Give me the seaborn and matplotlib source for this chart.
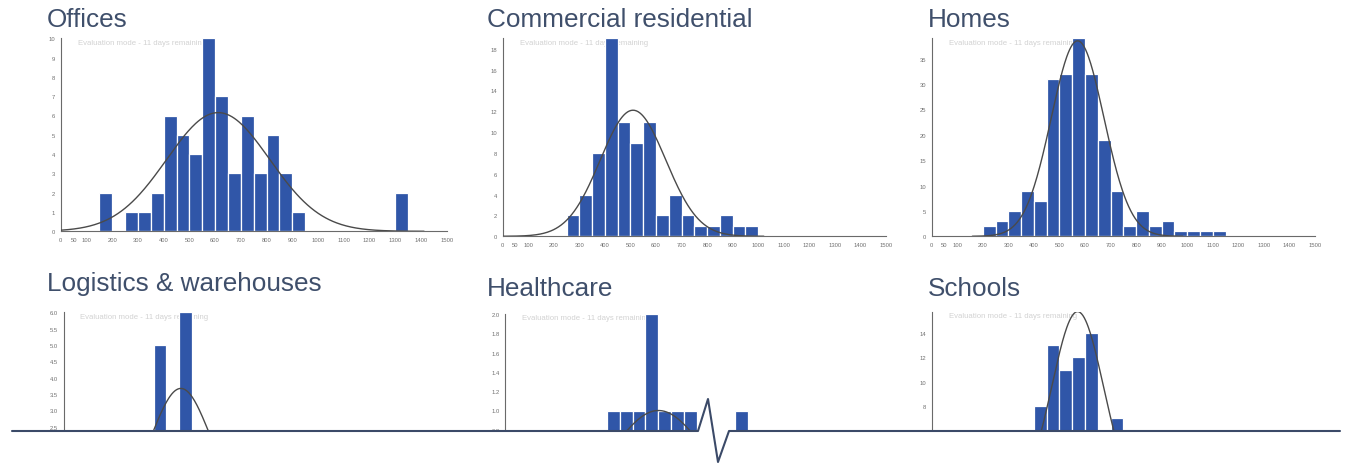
import numpy as np
import pandas as pd
import matplotlib
matplotlib.use("Agg")
import matplotlib.pyplot as plt
import seaborn as sns
from matplotlib.lines import Line2D
from matplotlib.patches import Rectangle

# ---------------- data ----------------
titles = ["Offices", "Commercial residential", "Homes",
          "Logistics & warehouses", "Healthcare", "Schools"]

offices_bins = [150, 250, 300, 350, 400, 450, 500, 550, 600, 650, 700, 750, 800, 850, 900, 1300]
offices_counts = [2, 1, 1, 2, 6, 5, 4, 10, 7, 3, 6, 3, 5, 3, 1, 2]

commercial_bins = [250, 300, 350, 400, 450, 500, 550, 600, 650, 700, 750, 800, 850, 900, 950]
commercial_counts = [2, 4, 8, 19, 11, 9, 11, 2, 4, 2, 1, 1, 2, 1, 1]

homes_bins = [200, 250, 300, 350, 400, 450, 500, 550, 600, 650, 700, 750, 800, 850, 900,
              950, 1000, 1050, 1100]
homes_counts = [2, 3, 5, 9, 7, 31, 32, 39, 32, 19, 9, 2, 5, 2, 3, 1, 1, 1, 1]

logistics_bins = [350, 450]
logistics_counts = [5, 6]

healthcare_bins = [400, 450, 500, 550, 600, 650, 700, 900]
healthcare_counts = [1, 1, 1, 2, 1, 1, 1, 1]

schools_bins = [400, 450, 500, 550, 600, 700]
schools_counts = [8, 13, 11, 12, 14, 7]

# fitted normal curve: mean, sd, peak height
curve_mean = [612, 510, 571, 456, 601, 571]
curve_sd = [200, 128, 103, 114, 180, 102]
curve_peak = [6.15, 12.1, 38.5, 3.67, 1.0, 15.75]

x_ticks = [0, 50, 100, 200, 300, 400, 500, 600, 700, 800, 900, 1000, 1100, 1200, 1300, 1400, 1500]
y_max = [10, 19, 39, 6.0, 2.0, 15.75]
# y ticks that show above the page cut
y_ticks = [[0, 1, 2, 3, 4, 5, 6, 7, 8, 9, 10],
           [0, 2, 4, 6, 8, 10, 12, 14, 16, 18],
           [0, 5, 10, 15, 20, 25, 30, 35],
           [2.5, 3.0, 3.5, 4.0, 4.5, 5.0, 5.5, 6.0],
           [0.8, 1.0, 1.2, 1.4, 1.6, 1.8, 2.0],
           [8, 10, 12, 14]]
y_fmt = ["{:.0f}", "{:.0f}", "{:.0f}", "{:.1f}", "{:.1f}", "{:.0f}"]

all_bins = [offices_bins, commercial_bins, homes_bins, logistics_bins, healthcare_bins, schools_bins]
all_counts = [offices_counts, commercial_counts, homes_counts, logistics_counts,
              healthcare_counts, schools_counts]

# ---------------- layout ----------------
W, H = 1345, 464
sns.set_style("white")
plt.rcParams["font.family"] = ["Liberation Sans", "DejaVu Sans"]

fig = plt.figure(figsize=(W / 100, H / 100), dpi=100)
fig.patch.set_facecolor("white")

# axes rectangles in pixels: left, top, right, bottom
boxes = [(60.7, 39.3, 446.7, 232.3),
         (502.7, 39.3, 886.0, 237.3),
         (931.7, 39.3, 1315.0, 237.3),
         (63.5, 313.3, 449.5, 509.3),
         (505.0, 315.0, 888.0, 508.0),
         (931.7, 312.6, 1315.0, 505.0)]
title_pos = [(47, 27), (487, 27), (928, 27), (47, 291), (487, 296), (928, 296)]

BAR = "#3056a8"
AX = "#6a6a6a"
TITLE = "#3f4f6b"

for i in range(6):
    l, t, r, b = boxes[i]
    ax = fig.add_axes([l / W, 1 - b / H, (r - l) / W, (b - t) / H])
    ax.set_facecolor("none")
    df = pd.DataFrame({"x": np.array(all_bins[i], dtype=float) + 25.0,
                       "n": np.array(all_counts[i], dtype=float)})
    sns.histplot(data=df, x="x", weights="n", binwidth=50, binrange=(0, 1500),
                 color=BAR, alpha=1, edgecolor="white", linewidth=0.9, ax=ax, zorder=1)
    mu, sd, pk = curve_mean[i], curve_sd[i], curve_peak[i]
    xs = np.linspace(max(0, mu - 4 * sd), min(1500, mu + 4 * sd), 300)
    cdf = pd.DataFrame({"x": xs, "y": pk * np.exp(-((xs - mu) ** 2) / (2 * sd ** 2))})
    sns.lineplot(data=cdf, x="x", y="y", color="#4a4a4a", linewidth=1.0, ax=ax, zorder=3)

    ax.set_xlim(0, 1500)
    ax.set_ylim(0, y_max[i])
    ax.set_xlabel("")
    ax.set_ylabel("")
    if i < 3:
        ax.set_xticks(x_ticks)
        ax.set_xticklabels([str(v) for v in x_ticks])
    else:
        ax.set_xticks([])
    yt = list(y_ticks[i])
    labels = [y_fmt[i].format(v) for v in yt]
    if abs(yt[-1] - y_max[i]) > 1e-6:
        yt.append(y_max[i])
        labels.append("")
    ax.set_yticks(yt)
    ax.set_yticklabels(labels)
    for s in ["top", "right"]:
        ax.spines[s].set_visible(False)
    for s in ["left", "bottom"]:
        ax.spines[s].set_color(AX)
        ax.spines[s].set_linewidth(0.8)
    ax.tick_params(length=2.5, width=0.6, color=AX, labelsize=4.2, labelcolor="#707070", pad=1.5)
    ax.annotate("Evaluation mode - 11 days remaining", xy=(0, 1), xycoords="axes fraction",
                xytext=(17, -4), textcoords="offset pixels", ha="left", va="center",
                fontsize=5.6, color="#d2d2d2", zorder=0.5)

    tx, ty = title_pos[i]
    fig.text(tx / W, 1 - ty / H, titles[i], fontsize=18.8, color=TITLE,
             ha="left", va="baseline")

# ---------------- page cut with break mark ----------------
fig.add_artist(Rectangle((0, 0), 1, 1 - 432.5 / H, transform=fig.transFigure,
                         facecolor="white", edgecolor="none", zorder=20))
zx = [12, 698, 708, 718, 729, 1340]
zy = [432, 432, 400, 463, 432, 432]
fig.add_artist(Line2D([v / W for v in zx], [1 - v / H for v in zy], transform=fig.transFigure,
                      color="#3b4a68", linewidth=1.5, zorder=21))

fig.savefig("out.png", dpi=100, facecolor="white")
